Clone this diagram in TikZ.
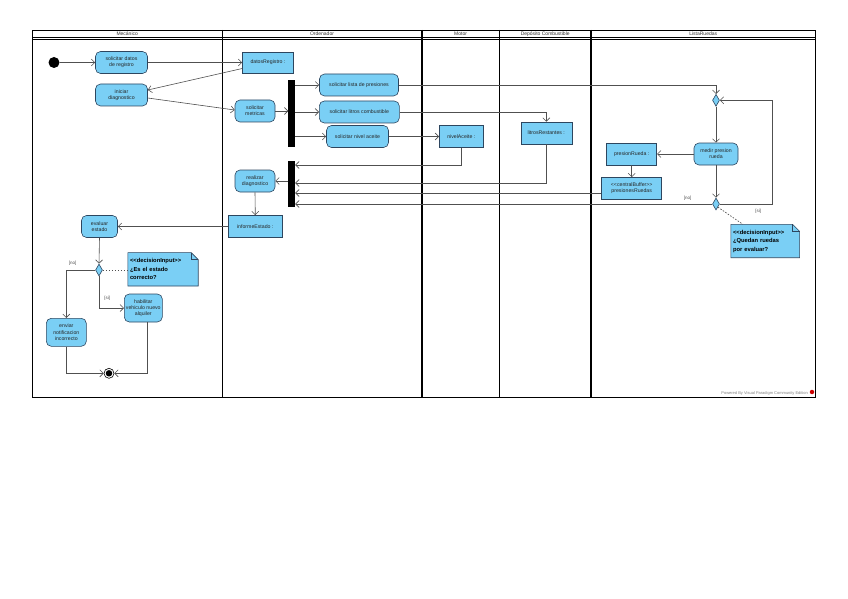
\documentclass[tikz,border=0pt]{standalone}
\usepackage{fontspec}
\setmainfont{Liberation Sans}
\usetikzlibrary{arrows.meta,shapes.geometric,backgrounds}
\definecolor{boxfill}{RGB}{122,207,245}
\definecolor{boxline}{RGB}{45,70,95}
\definecolor{conn}{RGB}{80,80,80}
\begin{document}
\begin{tikzpicture}[x=1pt,y=-1pt,
 txt/.style={font=\fontsize{5.2}{6.2}\selectfont, text=black!85},
 act/.style={draw=boxline, fill=boxfill, rounded corners=5pt, line width=0.6pt, align=center, inner sep=1pt, txt},
 obj/.style={draw=boxline, fill=boxfill, line width=0.6pt, align=center, inner sep=1pt, txt},
 bar/.style={fill=black, draw=none, minimum width=6.5pt, inner sep=0},
 dec/.style={diamond, draw=boxline, fill=boxfill, line width=0.6pt, minimum width=7pt, minimum height=12pt, inner sep=0},
 arr/.style={draw=conn, line width=0.6pt, -{Straight Barb[length=3.5pt,width=7pt]}},
 dots/.style={draw=conn, line width=0.7pt, dash pattern=on 1.5pt off 1.5pt},
 notebox/.style={font=\fontsize{5.8}{8.5}\selectfont\bfseries, align=left, text width=66pt, minimum height=33pt, inner sep=2pt},
 guard/.style={font=\fontsize{4.5}{5}\selectfont, text=black!70},
 lane/.style={font=\fontsize{5}{6}\selectfont, text=black!80}
]
\useasboundingbox (0,0) rectangle (848,599);
% frame
\draw[line width=0.9pt] (32,30) rectangle (815.5,397);
\draw[line width=0.8pt] (32,37.5) -- (815.5,37.5);
\draw[line width=0.8pt] (32,39.7) -- (815.5,39.7);
\foreach \x in {222.5,422,499.3,591} \draw[line width=1.2pt] (\x,30) -- (\x,397);
\node[lane] (hMec) at (127.2,34) {Mecánico};
\node[lane] (hOrd) at (322,34) {Ordenador};
\node[lane] (hMot) at (460.6,34) {Motor};
\node[lane] (hDep) at (545.2,34) {Depósito Combustible};
\node[lane] (hLis) at (703.2,34) {ListaRuedas};

% nodes
\node[circle, fill=black, minimum size=11pt, inner sep=0] (ini) at (54,62.5) {};
\node[act, minimum width=52pt, minimum height=22pt] (sd) at (121.5,62.5) {solicitar datos\\de registro};
\node[act, minimum width=52pt, minimum height=22pt] (id) at (121.5,95) {iniciar\\diagnostico};
\node[obj, minimum width=51pt, minimum height=21pt] (dr) at (268,62.5) {datosRegistro :};
\node[act, minimum width=40pt, minimum height=22pt] (sm) at (255,111) {solicitar\\metricas};
\node[bar, minimum height=66pt] (b1) at (291.7,113.5) {};
\node[act, minimum width=79pt, minimum height=22pt] (slp) at (359,85) {solicitar lista de presiones};
\node[act, minimum width=80pt, minimum height=22pt] (slc) at (359.3,112) {solicitar litros combustible};
\node[act, minimum width=62pt, minimum height=22pt] (sna) at (357.5,136.5) {solicitar nivel aceite};
\node[obj, minimum width=44pt, minimum height=22pt] (na) at (461.3,136.5) {nivelAceite :};
\node[obj, minimum width=51pt, minimum height=22pt] (ltr) at (546.3,133) {litrosRestantes :};
\node[dec] (d1) at (716,100.3) {};
\node[act, minimum width=44pt, minimum height=22pt] (mr) at (716,154) {medir presion\\rueda};
\node[obj, minimum width=50pt, minimum height=22pt] (pr) at (631.7,154) {presionRueda :};
\node[obj, minimum width=60pt, minimum height=22pt] (cb) at (631.7,188.5) {<{}<centralBuffer>{}>\\presionesRuedas};
\node[dec] (d2) at (716,204) {};
\node[bar, minimum height=46.6pt] (b2) at (291.7,184) {};
\node[act, minimum width=40pt, minimum height=22pt] (rd) at (255,181) {realizar\\diagnostico};
\node[obj, minimum width=54pt, minimum height=22pt] (ie) at (255.3,226.5) {informeEstado :};
\node[act, minimum width=36pt, minimum height=22pt] (ev) at (99.5,226.5) {evaluar\\estado};
\node[dec] (dd) at (99,270) {};
\node[act, minimum width=40pt, minimum height=28pt] (en) at (66.3,332.3) {enviar\\notificacion\\incorrecto};
\node[act, minimum width=38pt, minimum height=28pt] (hv) at (143.3,308) {habilitar\\vehiculo nuevo\\alquiler};
\node[circle, draw=black, line width=0.6pt, fill=white, minimum size=10pt, inner sep=0] (fin) at (109,373.3) {};
\node[circle, fill=black, minimum size=6.5pt, inner sep=0] (finc) at (fin) {};

% notes
\node[notebox] (n1) at (163,269.3) {<{}<decisionInput>{}>\\¿Es el estado\\correcto?};
\node[notebox, text width=64.3pt] (n2) at (765.2,241) {<{}<decisionInput>{}>\\¿Quedan ruedas\\por evaluar?};
\begin{scope}[on background layer]
\foreach \n in {n1,n2} {
 \filldraw[draw=boxline, fill=boxfill, line width=0.6pt] (\n.south west) -- (\n.north west) -- ([xshift=-7pt]\n.north east) -- ([yshift=-7pt]\n.north east) -- (\n.south east) -- cycle;
 \draw[boxline, line width=0.5pt] ([xshift=-7pt]\n.north east) -- ([xshift=-7pt,yshift=-7pt]\n.north east) -- ([yshift=-7pt]\n.north east);
}
\end{scope}

% connectors
\draw[arr] (ini) -- (sd);
\draw[arr] (sd.east) -- (sd.east -| dr.west);
\draw[arr] ([yshift=-6pt]dr.west) -- ([yshift=5pt]id.east);
\draw[arr] ([yshift=-3pt]id.east) -- ([yshift=1pt]sm.west);
\draw[arr] (sm.east) -- (sm.east -| b1.west);
\draw[arr] (b1.east |- slp.west) -- (slp.west);
\draw[arr] (b1.east |- slc.west) -- (slc.west);
\draw[arr] (b1.east |- sna.west) -- (sna.west);
\draw[arr] (slp.east) -| (d1.north);
\draw[arr] (slc.east) -| (ltr.north);
\draw[arr] (sna.east) -- (na.west);
\draw[arr] (na.south) |- ([yshift=19pt]b2.east);
\draw[arr] (ltr.south) |- ([yshift=1pt]b2.east);
\draw[arr] ([yshift=-4.5pt]cb.west) -- ([yshift=-9pt]b2.east);
\draw[arr] (d2.west) -- ([yshift=-20pt]b2.east);
\draw[arr] (d2.east) -| ([xshift=52pt]d1.east) -- (d1.east);
\draw[arr] (d1.south) -- (mr.north);
\draw[arr] (mr.west) -- (pr.east);
\draw[arr] (pr.south) -- (cb.north);
\draw[arr] (mr.south) -- (d2.north);
\draw[arr] ([yshift=3pt]b2.west) -- (rd.east);
\draw[arr] (rd.south) -- (ie.north);
\draw[arr] (ie.west) -- (ev.east);
\draw[arr] (ev.south) -- (dd.north);
\draw[arr] (dd.west) -| (en.north);
\draw[arr] (dd.south) |- (hv.west);
\draw[arr] (en.south) |- (fin.west);
\draw[arr] ([xshift=4pt]hv.south) |- (fin.east);
\draw[dots] (dd.east) -- (dd.east -| n1.west);
\draw[dots] (d2.south east) -- ([xshift=12pt]n2.north west);

% guards
\node[guard] (gno1) at (72.7,263) {[no]};
\node[guard] (gsi1) at (107.3,298) {[si]};
\node[guard] (gno2) at (687.7,198.5) {[no]};
\node[guard] (gsi2) at (758.3,211.5) {[si]};

% footer
\node[font=\fontsize{4}{5}\selectfont, text=black!50, anchor=east, inner sep=0] (pw) at (808,393) {Powered By Visual Paradigm Community Edition};
\node[circle, fill=red!80!black, minimum size=4.5pt, inner sep=0] (logo) at (812,392) {};
\end{tikzpicture}
\end{document}
